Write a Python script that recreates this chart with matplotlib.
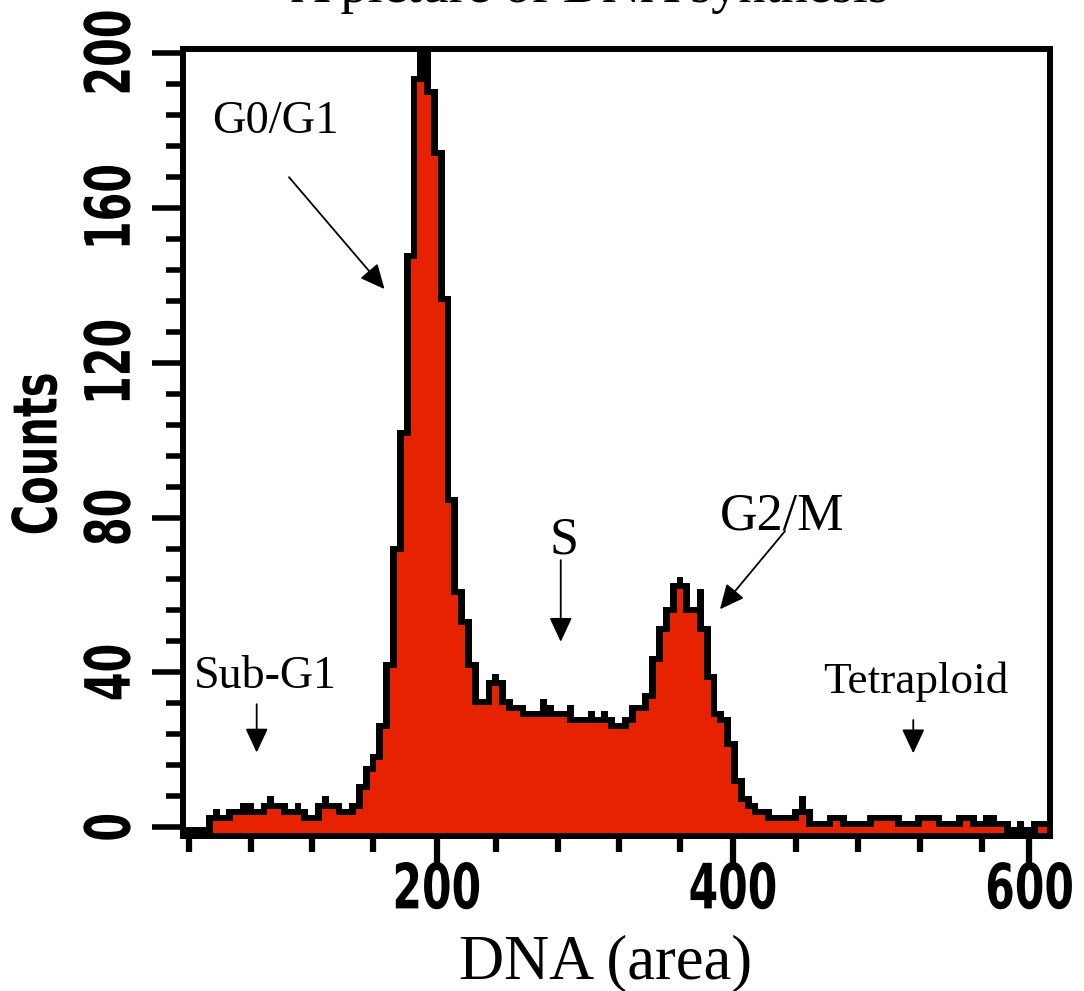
import numpy as np
import matplotlib
matplotlib.use("Agg")
import matplotlib.pyplot as plt
from matplotlib.patheffects import AbstractPathEffect
from matplotlib.transforms import Affine2D
from matplotlib.path import Path

# ---------------- data ----------------
title = "A picture of DNA synthesis"
x_label = "DNA (area)"
y_label = "Counts"

# histogram channels: first channel start and channel width (DNA units)
dna_start = 26.1
bin_width = 4.6

# counts per channel
counts = [
    0, 0, 0, 0,
    3.2, 4.8, 3.2, 4.8, 4.8, 6.4, 6.4, 4.8, 6.4, 8.1,
    6.4, 6.4, 4.8, 6.4, 4.8, 3.2, 6.4, 8.1, 6.4, 6.4,
    4.8, 6.4, 11.2, 15.8, 18.9, 26.9, 42.6, 72.6, 102.6, 148.4,
    194.0, 205.0, 205.0, 190.6, 174.9, 137.2, 85.4, 61.5, 53.7, 42.6,
    33.1, 38.0, 39.6, 38.0, 33.1, 31.6, 31.6, 30.1, 30.1, 33.1,
    31.6, 30.1, 30.1, 31.6, 28.6, 28.6, 30.1, 28.6, 30.1, 28.6,
    27.0, 28.6, 31.6, 31.6, 34.8, 44.2, 52.0, 57.0, 63.0, 64.7,
    63.0, 57.0, 61.5, 52.0, 39.6, 30.1, 28.6, 22.4, 12.7, 8.1,
    6.4, 4.6, 4.6, 3.2, 3.2, 3.2, 4.6, 8.1, 4.6, 1.7,
    1.7, 3.2, 3.2, 3.2, 1.7, 1.7, 1.7, 3.2, 3.2, 3.2,
    3.2, 3.2, 1.7, 1.7, 3.2, 3.2, 3.2, 3.2, 1.7, 1.7,
    3.2, 3.2, 3.2, 1.7, 3.2, 3.2, 1.7, 1.7, 0, 1.7,
    0, 1.7, 1.7, 1.7,
]

y_major = [0, 40, 80, 120, 160, 200]
y_major_labels = ["0", "40", "80", "120", "160", "200"]
x_major = [200, 400, 600]
x_major_labels = ["200", "400", "600"]

# annotations: label, text position, arrow start, arrow tip, font size
annotations = [
    ("G0/G1", (48.4, 179.2), (100.5, 167.9), (164.9, 139.0), 33.5),
    ("Sub-G1", (36.0, 36.0), (78.7, 31.8), (78.7, 19.3), 33),
    ("S", (276.1, 70.6), (283.8, 69.0), (283.8, 47.9), 37.5),
    ("G2/M", (391.2, 76.95), (435.1, 76.5), (391.2, 56.3), 37.5),
    ("Tetraploid", (460.9, 34.6), (521.6, 27.7), (521.6, 19.1), 32.5),
]


# ---------------- helpers ----------------
class Squeeze(AbstractPathEffect):
    """Draw text condensed along one display axis (keeps it a real Text)."""

    def __init__(self, sx=1.0, sy=1.0):
        super().__init__()
        self.sx, self.sy = sx, sy

    def draw_path(self, renderer, gc, tpath, affine, rgbFace=None):
        verts = affine.transform(tpath.vertices)
        if tpath.codes is not None:
            keep = tpath.codes != Path.CLOSEPOLY
            pts = verts[keep]
        else:
            pts = verts
        if len(pts) == 0:
            renderer.draw_path(gc, tpath, affine, rgbFace)
            return
        x0, y0 = pts.min(0)
        x1, y1 = pts.max(0)
        cx, cy = (x0 + x1) / 2, (y0 + y1) / 2
        new = affine + Affine2D().translate(-cx, -cy).scale(self.sx, self.sy).translate(cx, cy)
        renderer.draw_path(gc, tpath, new, rgbFace)


# ---------------- style ----------------
RED = "#E62200"
W, H, DPI = 1084, 991, 100
tick_font = ["DejaVu Sans"]
serif = ["Liberation Serif", "DejaVu Serif"]

fig = plt.figure(figsize=(W / DPI, H / DPI), dpi=DPI)
ax = fig.add_axes([183 / W, 1 - 835.7 / H, (1049.5 - 183) / W, (835.7 - 49) / H])

ylo, yhi = -2.17, 201.0
xlo, xhi = 29.0, 613.5
ax.set_xlim(xlo, xhi)
ax.set_ylim(ylo, yhi)

h = np.asarray(counts, dtype=float)
edges = dna_start + bin_width * np.arange(len(h) + 1)
# inner red fill = histogram eroded by one channel and a thick-outline height
hp = np.pad(h, 1, mode="edge")
inner = np.minimum(np.minimum(hp[:-2], hp[1:-1]), hp[2:]) - 1.55

ax.stairs(h, edges, baseline=ylo, fill=True, color="black", zorder=2, antialiased=False)
ax.stairs(inner, edges, baseline=ylo, fill=True, color=RED, zorder=3, antialiased=False)

# spines
for s in ax.spines.values():
    s.set_linewidth(4.3)
    s.set_color("black")
    s.set_zorder(5)

# ticks
ax.set_yticks(y_major)
ax.set_yticklabels(y_major_labels)
ax.set_yticks(np.arange(0, 201, 8), minor=True)
ax.set_xticks(x_major)
ax.set_xticklabels(x_major_labels)
minor_x_px = [189.3, 250.7, 312.3, 373.3, 496, 557.7, 619.3, 680.3, 796, 858.3, 920, 981.7]
ax.set_xticks([200 + (p - 436.5) / 1.4825 for p in minor_x_px], minor=True)

ax.tick_params(axis="y", which="major", direction="out", length=22, width=4, pad=7)
ax.tick_params(axis="y", which="minor", direction="out", length=12, width=4)
ax.tick_params(axis="x", which="major", direction="out", length=20, width=4.5, pad=-1.5)
ax.tick_params(axis="x", which="minor", direction="out", length=11.5, width=4.5)

for lab in ax.get_yticklabels():
    lab.set_family(tick_font)
    lab.set_fontweight("bold")
    lab.set_fontsize(45)
    lab.set_rotation(90)
    lab.set_va("center")
    lab.set_ha("right")
    lab.set_path_effects([Squeeze(sx=1.0, sy=0.66)])
for lab in ax.get_xticklabels():
    lab.set_family(tick_font)
    lab.set_fontweight("bold")
    lab.set_fontsize(45)
    lab.set_path_effects([Squeeze(sx=0.68, sy=1.0)])

# labels and title
fig.text(40 / W, 1 - 454 / H, y_label, rotation=90, ha="center", va="center",
         family=tick_font, fontweight="bold", fontsize=44,
         path_effects=[Squeeze(sx=1.0, sy=0.68)])
fig.text(605.1 / W, 1 - 978.5 / H, x_label, ha="center", va="baseline",
         family=serif, fontsize=45)
fig.text(589.6 / W, 1 - 1.6 / H, title, ha="center", va="baseline",
         family=serif, fontsize=39)

# annotations
for label, tpos, start, tip, fs in annotations:
    ax.text(tpos[0], tpos[1], label, ha="left", va="baseline", family=serif,
            fontsize=fs, zorder=6)
    ax.annotate("", xy=tip, xytext=start,
                arrowprops=dict(arrowstyle="-|>,head_length=15,head_width=7",
                                mutation_scale=1, color="black", lw=1.3,
                                shrinkA=0, shrinkB=0),
                zorder=6)

fig.savefig("out.png", dpi=DPI)
